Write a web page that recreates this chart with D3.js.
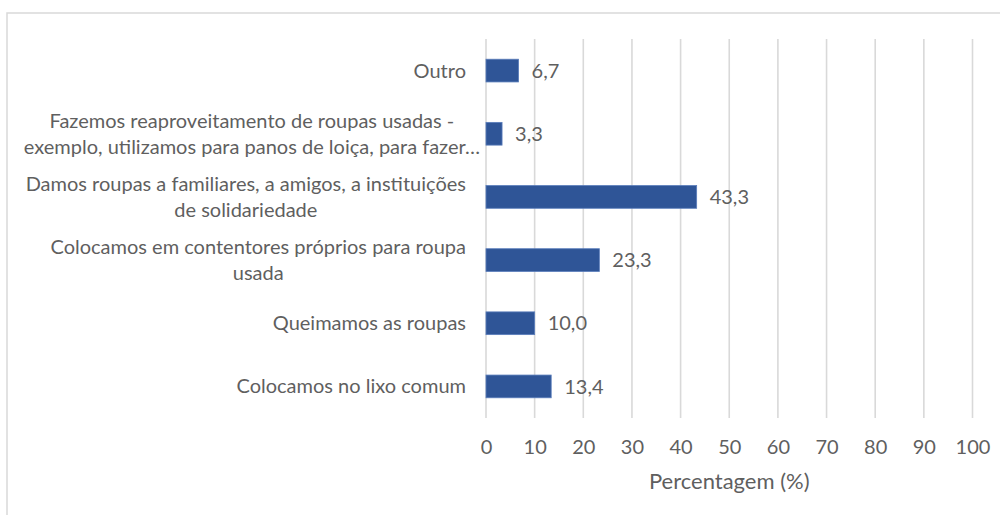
<!DOCTYPE html>
<html>
<head>
<meta charset="utf-8">
<script src="https://cdn.jsdelivr.net/npm/d3@7"></script>
<style>
  html, body { margin: 0; padding: 0; background: #fff; }
  svg { display: block; font-family: Lato, "Open Sans", sans-serif; }
</style>
</head>
<body>
<svg id="chart" width="1000" height="515"></svg>
<script>
// Destino dado às roupas usadas (percentagem de respostas)
const categories = [
  "Outro",
  "Fazemos reaproveitamento de roupas usadas -\nexemplo, utilizamos para panos de loiça, para fazer…",
  "Damos roupas a familiares, a amigos, a instituições\nde solidariedade",
  "Colocamos em contentores próprios para roupa\nusada",
  "Queimamos as roupas ",
  "Colocamos no lixo comum"
];
const values = [6.7, 3.3, 43.3, 23.3, 10.0, 13.4];
const valueLabels = ["6,7", "3,3", "43,3", "23,3", "10,0", "13,4"];
const xTicks = [0, 10, 20, 30, 40, 50, 60, 70, 80, 90, 100];
const xTitle = "Percentagem (%)";

const W = 1000, H = 515;
const plot = { left: 486, right: 972.5, top: 39, bottom: 418 };
const textColor = "#5f5f5f";
const gridColor = "#d9d9d9";
const barColor = "#2f5597";
const fontSize = 20;

const svg = d3.select("#chart");

// outer chart frame (runs off the right and bottom edges)
svg.append("rect")
  .attr("x", 7).attr("y", 13)
  .attr("width", W + 10).attr("height", H + 10)
  .attr("fill", "#fff")
  .attr("stroke", gridColor).attr("stroke-width", 1.5);

const x = d3.scaleLinear().domain([0, 100]).range([plot.left, plot.right]);
const y = d3.scaleBand()
  .domain(categories)
  .range([plot.top, plot.bottom])
  .paddingInner(0.64)
  .paddingOuter(0.32);

// vertical gridlines
svg.append("g")
  .selectAll("line")
  .data(xTicks)
  .join("line")
  .attr("x1", d => x(d)).attr("x2", d => x(d))
  .attr("y1", plot.top).attr("y2", plot.bottom)
  .attr("stroke", gridColor).attr("stroke-width", 1.6);

// x axis tick labels
const xAxis = d3.axisBottom(x).tickValues(xTicks).tickSize(0).tickPadding(0).tickFormat(d3.format("d"));
const gx = svg.append("g").attr("transform", `translate(0, 447)`).call(xAxis);
gx.select(".domain").remove();
gx.selectAll("text")
  .attr("dy", "0.35em")
  .attr("y", 0)
  .attr("fill", textColor)
  .style("font-size", fontSize + "px")
  .style("font-family", "Lato, sans-serif");

// x axis title
svg.append("text")
  .attr("x", (plot.left + plot.right) / 2)
  .attr("y", 489)
  .attr("text-anchor", "middle")
  .attr("fill", textColor)
  .style("font-size", "22px")
  .text(xTitle);

// bars
svg.append("g")
  .selectAll("rect")
  .data(values)
  .join("rect")
  .attr("x", x(0))
  .attr("y", (d, i) => y(categories[i]))
  .attr("width", d => x(d) - x(0))
  .attr("height", y.bandwidth())
  .attr("fill", barColor)
  .attr("stroke", "#5a7dbb").attr("stroke-width", 0.8);

// value labels
svg.append("g")
  .selectAll("text")
  .data(values)
  .join("text")
  .attr("x", d => x(d) + 13)
  .attr("y", (d, i) => y(categories[i]) + y.bandwidth() / 2)
  .attr("dy", "0.36em")
  .attr("fill", textColor)
  .style("font-size", fontSize + "px")
  .text((d, i) => valueLabels[i]);

// category labels: lines centred on each other, block right-aligned to the axis
const labelRight = 466;
const lineH = 26;
const gy = svg.append("g");
categories.forEach(cat => {
  const lines = cat.split("\n");
  const cy = y(cat) + y.bandwidth() / 2;
  const g = gy.append("g");
  const texts = lines.map((ln, j) => g.append("text")
    .attr("y", cy + (j - (lines.length - 1) / 2) * lineH)
    .attr("dy", "0.35em")
    .attr("text-anchor", "middle")
    .attr("fill", textColor)
    .style("font-size", fontSize + "px")
    .text(ln));
  const widths = texts.map(t => t.node().getComputedTextLength());
  const maxW = d3.max(widths);
  const truncated = lines.some(l => l.endsWith("…"));
  const right = truncated ? labelRight + 14 : labelRight;
  texts.forEach(t => t.attr("x", right - maxW / 2));
});
</script>
</body>
</html>
